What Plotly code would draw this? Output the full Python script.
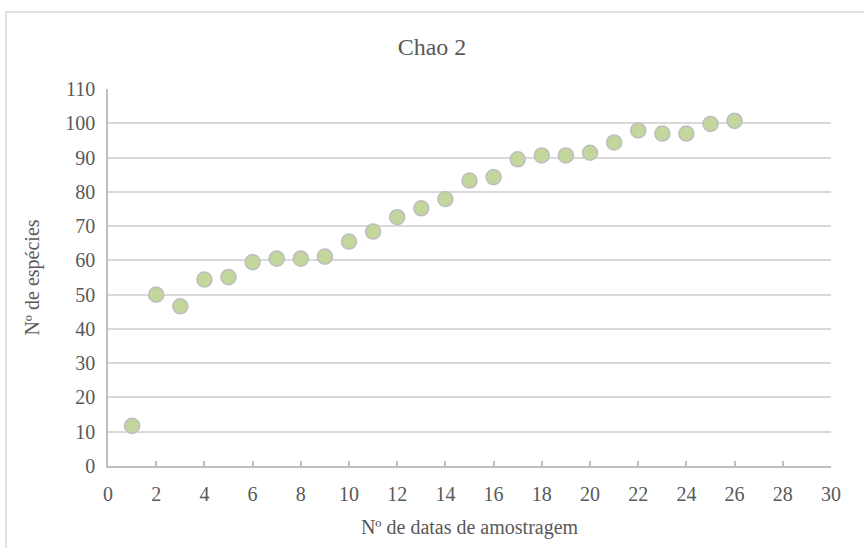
import plotly.graph_objects as go

# Sampling dates and Chao 2 richness estimates
sampling_dates = list(range(1, 27))
chao2_estimates = [11.7, 50.0, 46.6, 54.4, 55.1, 59.5, 60.5, 60.5, 61.1, 65.5,
                   68.4, 72.6, 75.2, 77.9, 83.3, 84.3, 89.5, 90.6, 90.6, 91.4,
                   94.4, 97.9, 97.0, 97.0, 99.8, 100.7]

chart_title = "Chao 2"
x_title = "Nº de datas de amostragem"
y_title = "Nº de espécies"

W, H = 864, 548
L, R, T, B = 108, 33, 89, 82

text_color = "#595959"
font_family = "Liberation Serif, Times New Roman, serif"

fig = go.Figure()
fig.add_trace(go.Scatter(
    x=sampling_dates,
    y=chao2_estimates,
    mode="markers",
    marker=dict(size=15, color="#C3D69B",
                line=dict(color="#BFBFBF", width=1.6)),
    showlegend=False,
    hoverinfo="x+y",
))

pw = W - L - R
ph = H - T - B


def px_to_paper_x(px):
    return (px - L) / pw


def px_to_paper_y(py):
    return (H - B - py) / ph


# chart-area outline (bottom edge lies past the canvas)
fig.add_shape(type="rect", xref="paper", yref="paper",
              x0=px_to_paper_x(6), x1=px_to_paper_x(870),
              y0=px_to_paper_y(560), y1=px_to_paper_y(12),
              line=dict(color="#D9D9D9", width=1.5), layer="below")

fig.update_layout(
    width=W, height=H,
    margin=dict(l=L, r=R, t=T, b=B, pad=0),
    paper_bgcolor="white",
    plot_bgcolor="white",
    font=dict(family=font_family, color=text_color, size=20),
    title=dict(text=chart_title, x=0.5, xanchor="center",
               y=1 - 47 / H, yanchor="middle",
               font=dict(size=24, color=text_color, family=font_family)),
    xaxis=dict(
        range=[0, 30], dtick=2, tick0=0,
        showgrid=False, zeroline=False,
        showline=True, linecolor="#BFBFBF", linewidth=1.5,
        ticks="inside", ticklen=5, tickcolor="#BFBFBF", tickwidth=1.5,
        ticklabelstandoff=9,
        tickfont=dict(size=20),
        title=dict(text=x_title, font=dict(size=20), standoff=16),
        fixedrange=True,
    ),
    yaxis=dict(
        range=[0, 110], dtick=10, tick0=0,
        showgrid=True, gridcolor="#D9D9D9", gridwidth=1.5,
        zeroline=False,
        showline=True, linecolor="#BFBFBF", linewidth=1.5,
        ticks="", ticklabelstandoff=7,
        tickfont=dict(size=20),
        title=dict(text=y_title, font=dict(size=20), standoff=20),
        fixedrange=True,
    ),
)

fig.write_html("out.html")
